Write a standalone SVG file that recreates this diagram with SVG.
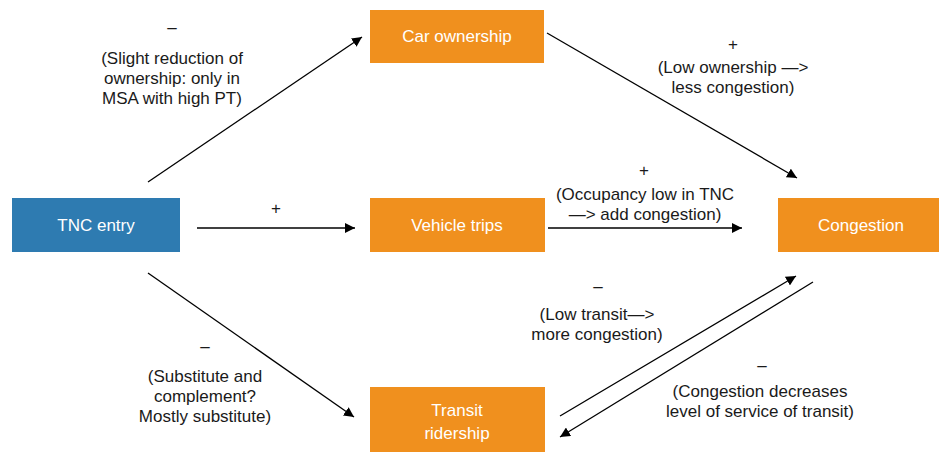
<svg xmlns="http://www.w3.org/2000/svg" width="939" height="455" viewBox="0 0 939 455">
<defs>
<marker id="arr" viewBox="0 0 10 10" refX="10" refY="5" markerWidth="10" markerHeight="10" markerUnits="userSpaceOnUse" orient="auto">
<path d="M0,0 L10,5 L0,10 z" fill="#000"/>
</marker>
<style>
.box{fill:#f0901e}
.blue{fill:#2e7bb1}
.nt{font-family:"Liberation Sans",Arial,sans-serif;font-size:17px;fill:#fff;text-anchor:middle}
.lb{font-family:"Liberation Sans",Arial,sans-serif;font-size:17px;fill:#1a1a1a;text-anchor:middle}
.c{stroke:#000;stroke-width:1.3;fill:none;marker-end:url(#arr)}
</style>
</defs>
<rect width="939" height="455" fill="#fff"/>
<g id="tnc"><rect class="blue" x="12" y="198" width="168" height="54"/><text class="nt" x="96" y="231">TNC entry</text></g>
<g id="car"><rect class="box" x="370" y="10" width="174" height="53"/><text class="nt" x="457" y="42">Car ownership</text></g>
<g id="trips"><rect class="box" x="370" y="198" width="175" height="54"/><text class="nt" x="457" y="231">Vehicle trips</text></g>
<g id="transit"><rect class="box" x="370" y="387" width="175" height="65"/><text class="nt" x="457" y="416">Transit</text><text class="nt" x="457" y="439">ridership</text></g>
<g id="congestion"><rect class="box" x="778" y="198" width="165" height="54"/><text class="nt" x="861" y="231">Congestion</text></g>
<g id="connectors">
<line class="c" x1="148" y1="182" x2="362" y2="37"/>
<line class="c" x1="547" y1="33" x2="797" y2="178"/>
<line class="c" x1="197" y1="228" x2="355" y2="228"/>
<line class="c" x1="548" y1="228" x2="742" y2="228"/>
<line class="c" x1="148" y1="273" x2="354" y2="417"/>
<line class="c" x1="560" y1="416" x2="796" y2="276"/>
<line class="c" x1="813" y1="282" x2="560" y2="437"/>
</g>
<g id="labels">
<text class="lb" x="172" y="33">–</text>
<text class="lb" x="172" y="64">(Slight reduction of</text>
<text class="lb" x="172" y="84">ownership: only in</text>
<text class="lb" x="172" y="104">MSA with high PT)</text>
<text class="lb" x="733" y="50">+</text>
<text class="lb" x="733" y="73">(Low ownership —&gt;</text>
<text class="lb" x="733" y="93">less congestion)</text>
<text class="lb" x="644" y="176">+</text>
<text class="lb" x="645" y="200">(Occupancy low in TNC</text>
<text class="lb" x="645" y="220">—&gt; add congestion)</text>
<text class="lb" x="276" y="214">+</text>
<text class="lb" x="205" y="352">–</text>
<text class="lb" x="205" y="382">(Substitute and</text>
<text class="lb" x="205" y="402">complement?</text>
<text class="lb" x="205" y="422">Mostly substitute)</text>
<text class="lb" x="598" y="292">–</text>
<text class="lb" x="597" y="320">(Low transit—&gt;</text>
<text class="lb" x="597" y="340">more congestion)</text>
<text class="lb" x="762" y="371">–</text>
<text class="lb" x="760" y="397">(Congestion decreases</text>
<text class="lb" x="760" y="417">level of service of transit)</text>
</g>
</svg>
